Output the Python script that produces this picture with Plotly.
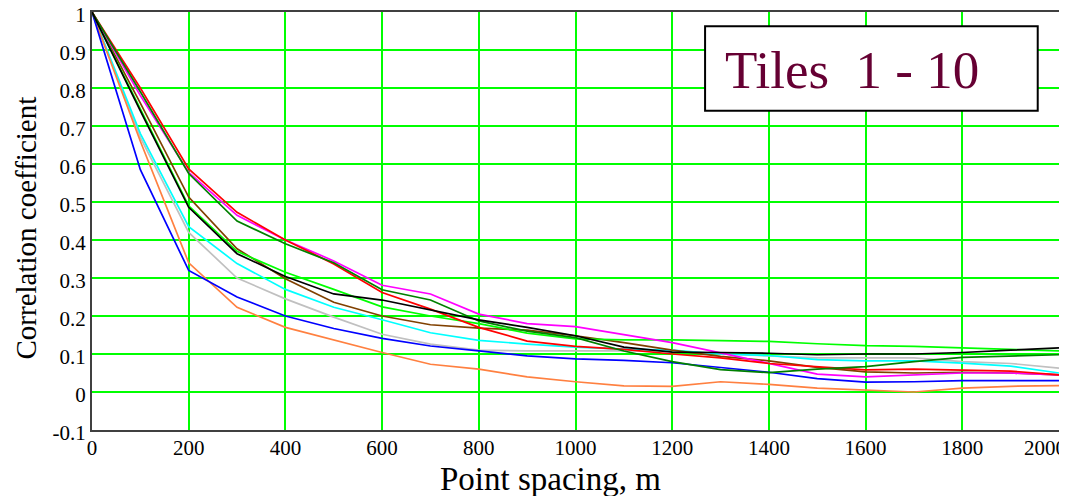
import plotly.graph_objects as go

# Point spacing (m)
spacing = [0, 100, 200, 300, 400, 500, 600, 700, 800, 900, 1000,
           1100, 1200, 1300, 1400, 1500, 1600, 1700, 1800, 1900, 2000]

# Correlation coefficient per tile
tile_blue = [1, 0.585, 0.32, 0.25, 0.20, 0.167, 0.141, 0.121, 0.108, 0.095, 0.087,
             0.083, 0.077, 0.065, 0.052, 0.035, 0.026, 0.027, 0.03, 0.03, 0.03]
tile_orange = [1, 0.66, 0.34, 0.223, 0.17, 0.136, 0.104, 0.073, 0.06, 0.04, 0.027,
               0.016, 0.015, 0.027, 0.02, 0.01, 0.005, 0.0, 0.01, 0.015, 0.017]
tile_gray = [1, 0.67, 0.42, 0.30, 0.245, 0.197, 0.152, 0.126, 0.11, 0.108, 0.108,
             0.108, 0.108, 0.1, 0.095, 0.09, 0.09, 0.09, 0.08, 0.075, 0.063]
tile_cyan = [1, 0.68, 0.435, 0.338, 0.27, 0.223, 0.19, 0.156, 0.136, 0.126, 0.118,
             0.113, 0.11, 0.1, 0.096, 0.085, 0.082, 0.082, 0.076, 0.068, 0.05]
tile_black = [1, 0.74, 0.486, 0.364, 0.304, 0.258, 0.242, 0.215, 0.19, 0.17, 0.148,
              0.118, 0.105, 0.104, 0.102, 0.098, 0.1, 0.1, 0.104, 0.11, 0.116]
tile_brown = [1, 0.76, 0.513, 0.377, 0.298, 0.236, 0.20, 0.177, 0.168, 0.163, 0.148,
              0.13, 0.11, 0.094, 0.082, 0.065, 0.053, 0.05, 0.052, 0.05, 0.045]
tile_lime = [1, 0.745, 0.49, 0.37, 0.315, 0.27, 0.224, 0.2, 0.18, 0.155, 0.14,
             0.137, 0.137, 0.135, 0.133, 0.127, 0.122, 0.12, 0.116, 0.113, 0.108]
tile_dkgreen = [1, 0.79, 0.575, 0.45, 0.39, 0.34, 0.269, 0.242, 0.187, 0.16, 0.143,
                0.108, 0.08, 0.059, 0.051, 0.06, 0.067, 0.08, 0.091, 0.095, 0.098]
tile_red = [1, 0.80, 0.587, 0.473, 0.40, 0.337, 0.262, 0.218, 0.17, 0.134, 0.12,
            0.112, 0.1, 0.09, 0.075, 0.067, 0.058, 0.06, 0.057, 0.055, 0.045]
tile_magenta = [1, 0.78, 0.578, 0.465, 0.40, 0.345, 0.281, 0.258, 0.205, 0.18, 0.172,
                0.15, 0.13, 0.103, 0.075, 0.047, 0.04, 0.045, 0.05, 0.05, 0.045]

x_ticks = [0, 200, 400, 600, 800, 1000, 1200, 1400, 1600, 1800]
x_last_tick = [2000]
y_ticks = [-0.1, 0, 0.1, 0.2, 0.3, 0.4, 0.5, 0.6, 0.7, 0.8, 0.9, 1]
y_tick_text = ["-0.1", "0", "0.1", "0.2", "0.3", "0.4", "0.5", "0.6", "0.7", "0.8", "0.9", "1"]

series = [
    ("gray", tile_gray, "#C0C0C0", "x"),
    ("cyan", tile_cyan, "#00FFFF", "x"),
    ("orange", tile_orange, "#FF8040", "x"),
    ("blue", tile_blue, "#0000FF", "x"),
    ("brown", tile_brown, "#804000", "x"),
    ("lime", tile_lime, "#00FF00", "x"),
    ("magenta", tile_magenta, "#FF00FF", "x"),
    ("red", tile_red, "#FF0000", "x"),
    ("dkgreen", tile_dkgreen, "#008000", "x"),
    ("black", tile_black, "#000000", "x2"),
]

fig = go.Figure()
for name, vals, col, xa in series:
    fig.add_trace(go.Scatter(x=spacing, y=vals, mode="lines", name=name, xaxis=xa,
                             line=dict(color=col, width=1.7), showlegend=False))

serif = "Liberation Serif, Times New Roman, serif"

# page body has an 8px margin, so the figure is 8px smaller and margins shifted
fig.update_layout(
    width=1059, height=488,
    margin=dict(l=84, r=8, t=4, b=66, autoexpand=False),
    paper_bgcolor="white", plot_bgcolor="white",
    font=dict(family=serif, color="black"),
    xaxis=dict(range=[0, 2000], tickvals=x_ticks, showgrid=True,
               gridcolor="#00FF00", gridwidth=2, zeroline=False,
               showline=True, linecolor="#404040", linewidth=2, mirror=True,
               ticks="", tickfont=dict(size=21, family=serif),
               ticklabelstandoff=-2,
               automargin=False, ticklabeloverflow="allow"),
    xaxis2=dict(range=[0, 2000], matches="x", overlaying="x", side="bottom",
                tickvals=x_last_tick, showgrid=False, zeroline=False, showline=False,
                ticks="", tickfont=dict(size=21, family=serif),
                ticklabelposition="outside left", ticklabelshift=7,
                ticklabelstandoff=3,
                automargin=False, ticklabeloverflow="allow"),
    yaxis=dict(range=[-0.1, 1.0], tickvals=y_ticks, ticktext=y_tick_text,
               showgrid=True, gridcolor="#00FF00", gridwidth=2,
               zeroline=False, showline=True, linecolor="#404040", linewidth=2,
               mirror=True, ticks="", tickfont=dict(size=21, family=serif),
               ticklabelshift=3,
               automargin=False, ticklabeloverflow="allow"),
)

# axis titles
fig.add_annotation(xref="paper", yref="paper", x=(550 - 92) / 967, y=(429.5 - 478) / 418,
                   xanchor="center", yanchor="middle", showarrow=False,
                   text="Point spacing, m", font=dict(size=33, family=serif, color="black"))
fig.add_annotation(xref="paper", yref="paper", x=(25 - 92) / 967, y=(429.5 - 228) / 418,
                   xanchor="center", yanchor="middle", showarrow=False, textangle=-90,
                   text="Correlation coefficient", font=dict(size=29, family=serif, color="black"))

fig.add_shape(type="rect", xref="paper", yref="paper",
              x0=0.634, x1=0.978, y0=0.764, y1=0.966,
              line=dict(color="black", width=2), fillcolor="white", layer="above")
fig.add_annotation(xref="paper", yref="paper", x=(723 - 92) / 967, y=(429.5 - 70) / 418,
                   xanchor="left", yanchor="middle", showarrow=False,
                   text="Tiles\u00a0\u00a01 - 10",
                   font=dict(size=53, family=serif, color="#660033"))

fig.write_html("out.html")
